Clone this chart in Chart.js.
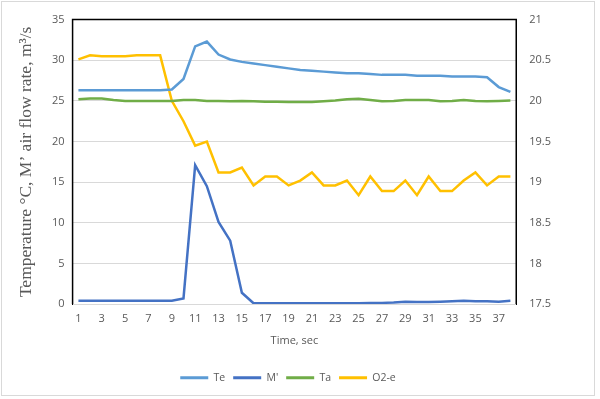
<!DOCTYPE html>
<html>
<head>
<meta charset="utf-8">
<script src="https://cdn.jsdelivr.net/npm/chart.js@4/dist/chart.umd.min.js"></script>
<style>
  html, body { margin: 0; padding: 0; background: #fff; }
</style>
</head>
<body>
<canvas id="chart" width="600" height="399"></canvas>
<script>
// time axis, seconds
const timeLabels = ['1','2','3','4','5','6','7','8','9','10','11','12','13','14','15','16','17','18','19',
  '20','21','22','23','24','25','26','27','28','29','30','31','32','33','34','35','36','37','38'];

// left axis series
const teValues = [26.3, 26.3, 26.3, 26.3, 26.3, 26.3, 26.3, 26.3, 26.4, 27.7, 31.7, 32.3, 30.7, 30.1, 29.8, 29.6,
  29.4, 29.2, 29.0, 28.8, 28.7, 28.6, 28.5, 28.4, 28.4, 28.3, 28.2, 28.2, 28.2, 28.1, 28.1, 28.1, 28.0, 28.0,
  28.0, 27.9, 26.7, 26.1];
const mValues = [0.4, 0.4, 0.4, 0.4, 0.4, 0.4, 0.4, 0.4, 0.4, 0.7, 17.1, 14.5, 10.1, 7.8, 1.4, 0.1, 0.1, 0.1,
  0.1, 0.1, 0.1, 0.1, 0.1, 0.1, 0.1, 0.15, 0.15, 0.2, 0.3, 0.25, 0.25, 0.3, 0.35, 0.4, 0.35, 0.35, 0.3, 0.4];
const taValues = [25.2, 25.3, 25.3, 25.1, 25.0, 25.0, 25.0, 25.0, 25.0, 25.1, 25.1, 25.0, 25.0, 24.95, 25.0,
  24.95, 24.9, 24.9, 24.85, 24.85, 24.85, 24.95, 25.05, 25.2, 25.25, 25.1, 24.95, 25.0, 25.1, 25.1, 25.1,
  24.95, 25.0, 25.1, 25.0, 24.95, 25.0, 25.05];

// right axis series
const o2Values = [20.51, 20.56, 20.55, 20.55, 20.55, 20.56, 20.56, 20.56, 20.0, 19.75, 19.45, 19.5, 19.12,
  19.12, 19.18, 18.96, 19.07, 19.07, 18.96, 19.02, 19.12, 18.96, 18.96, 19.02, 18.84, 19.07, 18.89, 18.89,
  19.02, 18.84, 19.07, 18.89, 18.89, 19.02, 19.12, 18.96, 19.07, 19.07];

const gray = '#595959';

const framePlugin = {
  id: 'frame',
  beforeDraw(chart) {
    const ctx = chart.ctx;
    ctx.save();
    ctx.fillStyle = '#fff';
    ctx.fillRect(0, 0, chart.width, chart.height);
    ctx.strokeStyle = '#d9d9d9';
    ctx.lineWidth = 1;
    ctx.strokeRect(1.5, 1.5, 593, 394);
    ctx.restore();
  },
  afterDatasetsDraw(chart) {
    const a = chart.chartArea;
    const ctx = chart.ctx;
    ctx.save();
    ctx.strokeStyle = '#000';
    ctx.lineWidth = 1.5;
    ctx.beginPath();
    ctx.moveTo(a.left, a.bottom);
    ctx.lineTo(a.left, a.top);
    ctx.lineTo(a.right, a.top);
    ctx.lineTo(a.right, a.bottom);
    ctx.stroke();
    ctx.restore();
  }
};

const line = (label, data, color, axis) => ({
  label, data, yAxisID: axis,
  borderColor: color, backgroundColor: color,
  borderWidth: 2.5, pointRadius: 0, tension: 0
});

new Chart(document.getElementById('chart'), {
  type: 'line',
  data: {
    labels: timeLabels,
    datasets: [
      line('Te', teValues, '#5B9BD5', 'y'),
      line("M'", mValues, '#4472C4', 'y'),
      line('Ta', taValues, '#70AD47', 'y'),
      line('O2-e', o2Values, '#FFC000', 'y1')
    ]
  },
  options: {
    responsive: false,
    animation: false,
    layout: { padding: { left: 12, right: 36, top: 10, bottom: 6 } },
    plugins: {
      legend: {
        position: 'bottom',
        labels: {
          color: gray,
          font: { family: 'Open Sans', size: 10.5 },
          boxWidth: 28,
          boxHeight: 3,
          padding: 8,
          generateLabels(chart) {
            return chart.data.datasets.map((ds, i) => ({
              text: ds.label, fillStyle: ds.borderColor, strokeStyle: ds.borderColor,
              lineWidth: 0, datasetIndex: i, fontColor: gray
            }));
          }
        }
      },
      tooltip: { enabled: false }
    },
    scales: {
      x: {
        offset: true,
        grid: { display: false },
        border: { color: '#d9d9d9' },
        ticks: {
          color: gray, font: { family: 'Open Sans', size: 11 },
          autoSkip: false, maxRotation: 0, padding: 0,
          callback(v, i) { return i % 2 === 0 ? timeLabels[i] : ''; }
        },
        title: { display: true, text: 'Time, sec', color: gray, font: { family: 'Open Sans', size: 11 }, padding: { top: 9, bottom: 17 } }
      },
      y: {
        position: 'left',
        min: 0, max: 35,
        ticks: { stepSize: 5, color: gray, font: { family: 'Open Sans', size: 11 }, padding: 8 },
        grid: { color: '#d9d9d9', drawTicks: false },
        border: { color: '#000' },
        title: {
          display: true, text: 'Temperature \u00B0C, M\u2019 air flow rate, m\u00B3/s',
          color: gray, font: { family: 'Liberation Serif', size: 17.5 }, padding: { bottom: 7 }
        }
      },
      y1: {
        position: 'right',
        min: 17.5, max: 21,
        ticks: {
          stepSize: 0.5, color: gray, font: { family: 'Open Sans', size: 11 }, padding: 13,
          callback(v) { return String(v); }
        },
        grid: { drawOnChartArea: false, drawTicks: false },
        border: { color: '#000' }
      }
    }
  },
  plugins: [framePlugin]
});
</script>
</body>
</html>
